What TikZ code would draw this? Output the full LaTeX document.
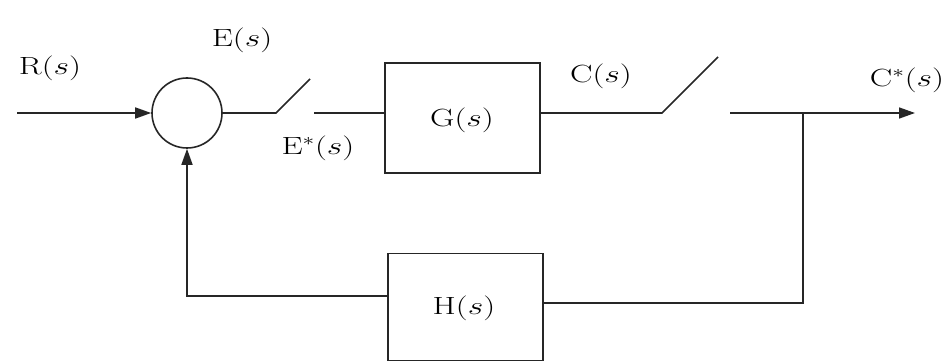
\documentclass[tikz,border=0pt]{standalone}
\usepackage{graphicx}
\usetikzlibrary{arrows.meta}
\newcommand\widetext[1]{\scalebox{1.35}[1]{#1}}
\tikzset{
  wire/.style={line width=1.6pt, draw=black!85},
  arr/.style={wire, -{Triangle[length=16pt,width=11pt]}},
  blockbox/.style={draw=black!85, line width=1.6pt, minimum width=155pt, inner sep=0pt},
  sumc/.style={draw=black!85, line width=1.6pt, circle, minimum size=70pt, inner sep=0pt},
  lbl/.style={inner sep=0pt, font=\fontsize{25}{30}\selectfont},
}
\begin{document}
\begin{tikzpicture}[x=1pt,y=-1pt]
\useasboundingbox (0,0) rectangle (952,363);
% blocks
\node[sumc] (sum) at (187,113) {};
\node[blockbox, minimum height=110pt] (G) at (462.5,118) {};
\node[blockbox, minimum height=107pt] (H) at (465.5,307) {};
% labels
\node[lbl] (Gl) at (462,120) {\widetext{$\mathrm{G}(s)$}};
\node[lbl] (Hl) at (464,308) {\widetext{$\mathrm{H}(s)$}};
\node[lbl] (Rl) at (50,68) {\widetext{$\mathrm{R}(s)$}};
\node[lbl] (El) at (242,40) {\widetext{$\mathrm{E}(s)$}};
\node[lbl] (Esl) at (318,148) {\widetext{$\mathrm{E}^{*}(s)$}};
\node[lbl] (Cl) at (601,76) {\widetext{$\mathrm{C}(s)$}};
\node[lbl] (Csl) at (907,80) {\widetext{$\mathrm{C}^{*}(s)$}};
% coordinates
\coordinate (in) at (17,113);
\coordinate (swa) at (276,113);
\coordinate (swb) at (310,79);
\coordinate (swc) at (314,113);
\coordinate (swd) at (662,113);
\coordinate (swe) at (718,57);
\coordinate (outa) at (730,113);
\coordinate (br) at (803,113);
\coordinate (outb) at (915,113);
\coordinate (brd) at (803,303);
\coordinate (fbl) at (187,296);
% connectors
\draw[arr] (in) -- (sum.west);
\draw[wire] (sum.east) -- (swa) -- (swb);
\draw[wire] (swc) -- (swc -| G.west);
\draw[wire] (G.east |- swd) -- (swd) -- (swe);
\draw[arr] (outa) -- (outb);
\draw[wire] (br) -- (brd) -- (brd -| H.east);
\draw[arr] (H.west |- fbl) -- (fbl) -- (sum.south);
\end{tikzpicture}
\end{document}
